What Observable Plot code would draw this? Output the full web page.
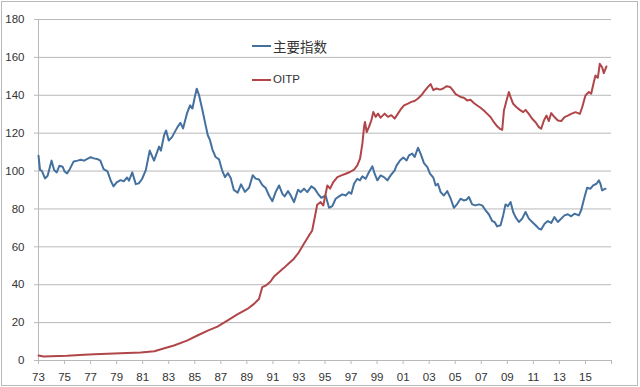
<!DOCTYPE html>
<html>
<head>
<meta charset="utf-8">
<script src="https://cdn.jsdelivr.net/npm/d3@7"></script>
<script src="https://cdn.jsdelivr.net/npm/@observablehq/plot@0.6"></script>
<style>
  html, body { margin: 0; padding: 0; background: #fff; }
  #wrap { position: relative; width: 640px; height: 387px; overflow: hidden; }
  #frame { position: absolute; left: 1px; top: 1px; width: 635px; height: 383px; border: 1px solid #b9b9b9; pointer-events: none; }
  .lg { position: absolute; left: 252px; width: 19px; height: 2px; }
  .lt { position: absolute; left: 273px; color: #333; white-space: nowrap; }
</style>
</head>
<body>
<div id="wrap">
  <div id="chart"></div>
  <div id="frame"></div>
</div>
<script>
// ---- data ----
const seriesNames = ["主要指数", "OITP"];
const seriesColors = ["#44709f", "#b0464a"];

const blueYears = [1973.00,1973.12,1973.25,1973.50,1973.70,1974.00,1974.20,1974.40,1974.60,1974.85,1975.00,1975.20,1975.40,1975.70,1976.00,1976.25,1976.50,1976.75,1977.00,1977.25,1977.50,1977.75,1978.00,1978.30,1978.55,1978.76,1979.00,1979.30,1979.55,1979.80,1979.95,1980.20,1980.47,1980.70,1980.95,1981.24,1981.54,1981.87,1982.26,1982.40,1982.64,1982.80,1983.00,1983.25,1983.67,1983.90,1984.10,1984.40,1984.64,1984.82,1985.00,1985.15,1985.33,1985.59,1985.84,1986.00,1986.17,1986.35,1986.60,1986.86,1987.10,1987.32,1987.55,1987.76,1988.00,1988.30,1988.55,1988.85,1989.17,1989.45,1989.68,1989.93,1990.20,1990.45,1990.70,1990.96,1991.21,1991.47,1991.73,1991.90,1992.16,1992.37,1992.62,1992.93,1993.13,1993.39,1993.64,1993.95,1994.20,1994.46,1994.72,1995.05,1995.31,1995.56,1995.82,1996.08,1996.33,1996.59,1996.84,1997.02,1997.23,1997.48,1997.69,1997.87,1998.12,1998.38,1998.64,1998.81,1999.02,1999.27,1999.53,1999.79,2000.04,2000.35,2000.50,2000.76,2001.01,2001.27,2001.45,2001.70,2001.88,2002.14,2002.34,2002.60,2002.86,2003.06,2003.32,2003.50,2003.67,2003.88,2004.13,2004.39,2004.65,2004.90,2005.16,2005.41,2005.65,2005.87,2006.05,2006.30,2006.55,2006.82,2007.07,2007.33,2007.58,2007.84,2008.02,2008.22,2008.48,2008.68,2008.86,2009.04,2009.25,2009.45,2009.63,2009.89,2010.14,2010.40,2010.65,2010.91,2011.17,2011.42,2011.60,2011.86,2012.11,2012.37,2012.62,2012.88,2013.14,2013.39,2013.65,2013.90,2014.16,2014.49,2014.67,2014.93,2015.13,2015.39,2015.59,2015.85,2016.03,2016.15,2016.28,2016.54];
const blueValues = [108.1,100.5,100.2,96.1,97.5,105.5,100.5,99.3,102.8,102.3,99.8,98.8,101.0,105.1,105.5,106.0,105.5,106.4,107.3,106.7,106.4,105.5,101.0,99.8,94.9,91.9,94.0,95.2,94.6,96.6,94.9,99.3,93.1,93.5,95.8,100.5,110.8,105.5,112.9,110.8,118.8,121.4,116.1,117.9,123.2,125.4,122.5,130.4,134.7,133.0,139.0,143.5,140.0,132.1,124.0,118.9,116.3,111.5,107.4,106.2,100.4,96.8,98.9,96.4,90.0,88.6,93.0,89.0,91.2,97.8,96.0,95.5,92.5,91.0,87.1,84.1,88.9,92.4,88.0,86.6,89.4,87.1,83.6,90.1,88.9,90.7,88.9,91.9,90.7,88.0,85.9,87.1,80.6,81.5,85.4,86.6,87.7,87.1,88.9,88.0,93.3,95.9,95.1,97.2,95.9,99.5,102.5,98.6,95.1,97.7,96.8,95.1,97.7,100.4,103.0,105.6,107.1,105.6,108.3,109.2,107.4,112.3,109.2,104.2,102.1,98.6,96.5,92.4,93.3,88.9,87.1,89.4,85.4,80.6,82.7,85.4,84.5,84.9,86.3,82.4,81.9,82.4,81.9,79.3,77.2,73.6,73.1,70.8,71.4,76.6,82.4,81.4,83.7,78.4,75.7,73.1,74.9,78.4,74.9,73.1,71.4,69.6,69.1,72.2,73.6,72.6,75.7,73.1,74.9,76.6,77.2,76.1,77.5,76.6,79.3,86.3,91.2,90.7,92.4,93.3,95.1,93.3,89.8,90.7];

const redYears = [1973.00,1973.40,1973.94,1975.20,1976.50,1977.30,1978.30,1979.80,1980.85,1981.90,1982.60,1983.40,1984.40,1985.20,1986.00,1986.74,1987.50,1988.27,1989.04,1989.55,1989.93,1990.18,1990.44,1990.82,1991.08,1991.46,1991.85,1992.23,1992.60,1992.99,1993.37,1993.76,1994.01,1994.19,1994.40,1994.67,1994.87,1995.05,1995.18,1995.39,1995.64,1995.95,1996.26,1996.59,1996.92,1997.23,1997.48,1997.69,1997.87,1998.00,1998.07,1998.20,1998.38,1998.56,1998.71,1998.89,1999.07,1999.27,1999.58,1999.84,2000.09,2000.35,2000.60,2000.81,2001.07,2001.37,2001.63,2001.88,2002.14,2002.40,2002.65,2002.91,2003.11,2003.32,2003.57,2003.83,2004.08,2004.34,2004.60,2004.78,2005.03,2005.41,2005.66,2005.92,2006.17,2006.43,2006.69,2006.94,2007.20,2007.46,2007.71,2007.97,2008.22,2008.43,2008.61,2008.74,2008.94,2009.12,2009.25,2009.45,2009.71,2009.96,2010.22,2010.40,2010.65,2010.91,2011.17,2011.42,2011.60,2011.81,2012.01,2012.19,2012.37,2012.62,2012.88,2013.14,2013.39,2013.65,2013.90,2014.24,2014.57,2014.75,2015.00,2015.26,2015.44,2015.64,2015.77,2015.95,2016.10,2016.28,2016.41,2016.61];
const redValues = [2.6,2.1,2.3,2.5,3.0,3.3,3.5,3.9,4.2,4.9,6.3,7.9,10.5,13.2,15.8,17.9,21.1,24.3,27.2,29.9,32.5,38.7,39.5,41.7,44.3,46.6,48.9,51.3,53.6,57.1,61.5,65.9,68.5,74.7,82.2,83.6,81.8,88.0,92.4,90.7,94.2,96.8,97.7,98.6,99.5,100.7,103.0,106.5,114.5,123.3,125.9,120.6,123.3,126.8,131.2,128.6,130.3,128.2,130.3,128.6,129.5,127.7,130.3,132.5,134.7,135.6,136.5,137.0,138.3,140.0,142.3,144.4,145.9,142.7,143.6,143.0,143.6,144.8,144.4,143.0,140.6,139.1,138.7,137.3,137.6,135.9,134.6,133.4,132.0,130.2,128.5,125.8,123.6,122.3,121.8,132.0,137.3,141.7,139.0,135.5,133.7,132.3,131.1,132.3,130.2,127.6,125.8,123.2,122.3,126.7,129.3,126.4,130.6,128.5,126.7,126.4,128.5,129.3,130.2,131.1,130.2,133.7,139.9,141.7,140.8,146.9,150.4,149.2,156.6,154.8,151.7,155.2];

const xTicks = [1973,1975,1977,1979,1981,1983,1985,1987,1989,1991,1993,1995,1997,1999,2001,2003,2005,2007,2009,2011,2013,2015,2017];
const xTickLabels = ["73","75","77","79","81","83","85","87","89","91","93","95","97","99","01","03","05","07","09","11","13","15",""];
const yTicks = [0,20,40,60,80,100,120,140,160,180];

// ---- build tables ----
const blue = blueYears.map((t, i) => ({t, v: blueValues[i], s: seriesNames[0]}));
const red = redYears.map((t, i) => ({t, v: redValues[i], s: seriesNames[1]}));
const xLabel = new Map(xTicks.map((t, i) => [t, xTickLabels[i]]));

const chart = Plot.plot({
  width: 640,
  height: 387,
  marginLeft: 38,
  marginRight: 29,
  marginTop: 19,
  marginBottom: 27,
  style: {fontFamily: "'Liberation Sans', Arial, sans-serif", fontSize: "11.5px", color: "#333", background: "transparent"},
  x: {domain: [1973, 2017], label: null},
  y: {domain: [0, 180], label: null},
  marks: [
    Plot.gridY(yTicks, {stroke: "#b9b9b9", strokeOpacity: 1, strokeWidth: 1}),
    Plot.ruleX([1973], {stroke: "#b9b9b9", strokeWidth: 1}),
    Plot.axisY(yTicks, {tickSize: 4, tickPadding: 10, stroke: "#b9b9b9", fill: "#333", label: null}),
    Plot.axisX(xTicks, {tickSize: 4, tickPadding: 8, stroke: "#b9b9b9", fill: "#333", label: null, tickFormat: d => xLabel.get(d)}),
    Plot.line(blue, {x: "t", y: "v", stroke: seriesColors[0], strokeWidth: 2, strokeLinejoin: "round"}),
    Plot.line(red, {x: "t", y: "v", stroke: seriesColors[1], strokeWidth: 2, strokeLinejoin: "round"})
  ]
});
document.getElementById("chart").appendChild(chart);

// ---- legend (HTML overlay) ----
const wrap = document.getElementById("wrap");
const legendTops = [46, 80];
seriesNames.forEach((name, i) => {
  const sw = document.createElement("div");
  sw.className = "lg";
  sw.style.top = (legendTops[i] - 1) + "px";
  sw.style.background = seriesColors[i];
  wrap.appendChild(sw);
  const tx = document.createElement("div");
  tx.className = "lt";
  tx.textContent = name;
  if (i === 0) {
    tx.style.fontFamily = "'Noto Sans CJK SC', sans-serif";
    tx.style.fontSize = "13.5px";
    tx.style.top = (legendTops[i] - 10) + "px";
  } else {
    tx.style.fontFamily = "'Liberation Sans', Arial, sans-serif";
    tx.style.fontSize = "11.5px";
    tx.style.top = (legendTops[i] - 7) + "px";
  }
  wrap.appendChild(tx);
});
</script>
</body>
</html>
